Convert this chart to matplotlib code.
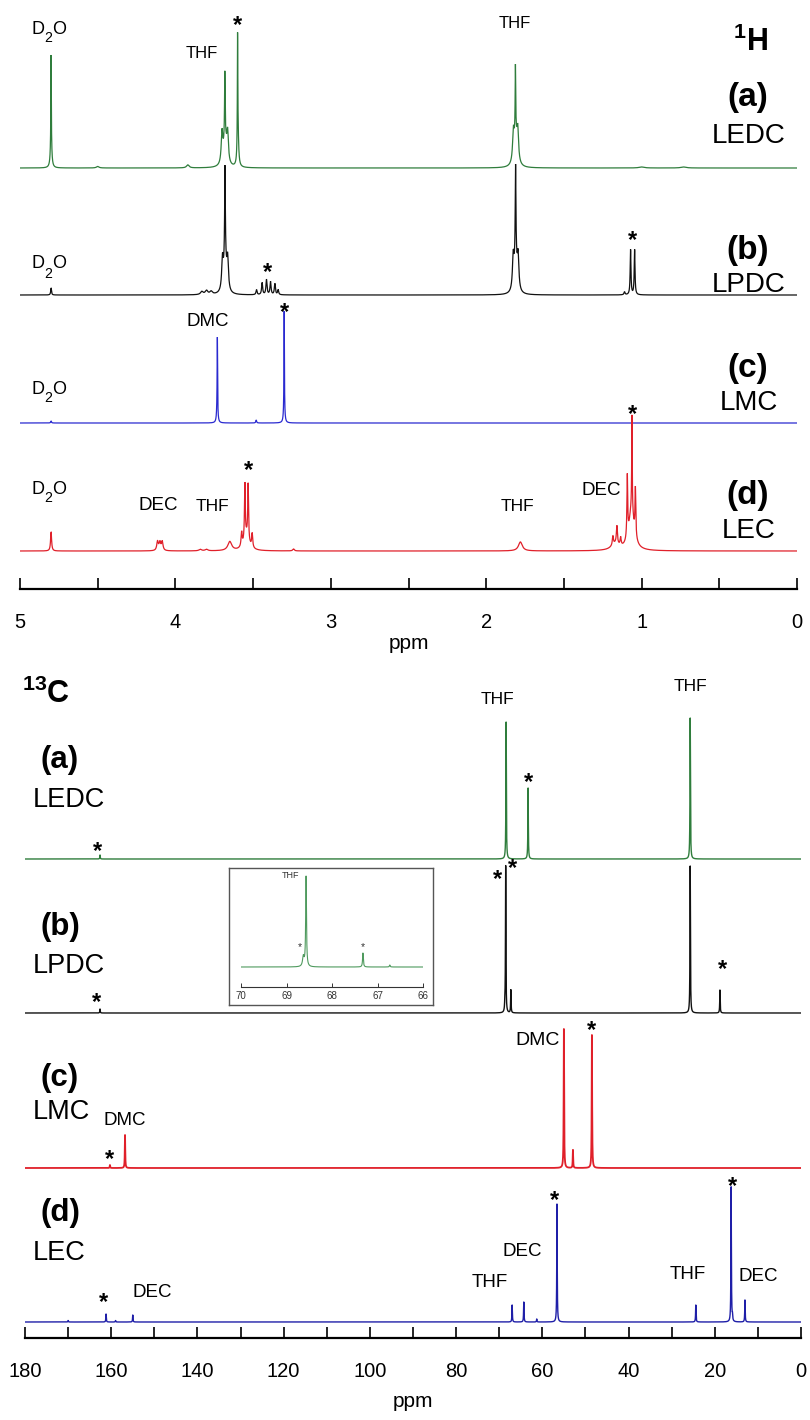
import numpy as np
import matplotlib
matplotlib.use("Agg")
import matplotlib.pyplot as plt
from matplotlib.ticker import MultipleLocator, NullFormatter

plt.rcParams['font.family'] = ['Liberation Sans', 'DejaVu Sans']
plt.rcParams['mathtext.fontset'] = 'custom'
plt.rcParams['mathtext.rm'] = 'Liberation Sans'
plt.rcParams['mathtext.bf'] = 'Liberation Sans:bold'
plt.rcParams['mathtext.it'] = 'Liberation Sans:italic'

# ---------------- 1H spectra: peak lists (ppm, height, half-width) ----------------
H_LEDC_ppm = [4.800, 4.800, 4.50, 3.92, 3.700, 3.680, 3.682, 3.664, 3.600, 3.598,
              1.825, 1.810, 1.812, 1.797, 1.00, 0.73]
H_LEDC_hgt = [85, 28, 1.5, 3, 30, 30, 62, 28, 100, 40,
              28, 30, 66, 28, 1, 1]
H_LEDC_wid = [0.0015, 0.005, 0.01, 0.01, 0.006, 0.012, 0.002, 0.006, 0.0015, 0.005,
              0.006, 0.012, 0.002, 0.006, 0.02, 0.02]

H_LPDC_ppm = [4.800, 3.83, 3.80, 3.77, 3.697, 3.680, 3.681, 3.664,
              3.478, 3.442, 3.414, 3.388, 3.360, 3.339,
              1.826, 1.810, 1.811, 1.795, 1.110, 1.071, 1.045]
H_LPDC_hgt = [7, 3, 4, 3, 30, 35, 88, 30,
              5, 12, 15, 13, 11, 5,
              32, 35, 88, 32, 3, 45, 45]
H_LPDC_wid = [0.003, 0.01, 0.01, 0.01, 0.006, 0.010, 0.0025, 0.006,
              0.004, 0.004, 0.004, 0.004, 0.004, 0.004,
              0.006, 0.010, 0.0025, 0.006, 0.004, 0.003, 0.003]

H_LMC_ppm = [4.80, 3.730, 3.731, 3.48, 3.300, 3.300]
H_LMC_hgt = [2, 70, 17, 3, 95, 17]
H_LMC_wid = [0.003, 0.0015, 0.004, 0.003, 0.0015, 0.004]

H_LEC_ppm = [4.800, 4.115, 4.100, 4.085, 3.84, 3.80, 3.650, 3.574, 3.553, 3.532, 3.506, 3.543,
             3.240, 1.780, 1.185, 1.159, 1.135, 1.170, 1.092, 1.062, 1.040, 1.065]
H_LEC_hgt = [19, 9, 8, 9, 1.5, 1.5, 9, 14, 55, 55, 14, 15,
             2, 9, 9, 18, 8, 6, 62, 95, 48, 40]
H_LEC_wid = [0.004, 0.006, 0.006, 0.006, 0.01, 0.01, 0.015, 0.004, 0.003, 0.003, 0.004, 0.02,
             0.006, 0.015, 0.004, 0.004, 0.004, 0.03, 0.003, 0.002, 0.003, 0.02]

# ---------------- 13C spectra ----------------
C_LEDC_ppm = [162.6, 68.4, 63.3, 25.7]
C_LEDC_hgt = [4, 137, 71, 141]

C_LPDC_ppm = [162.6, 68.7, 68.5, 67.3, 25.7, 18.8]
C_LPDC_hgt = [4, 5, 147, 23, 147, 23]

C_LMC_ppm = [160.3, 156.8, 55.0, 52.9, 48.5]
C_LMC_hgt = [3, 33, 139, 18, 133]

C_LEC_ppm = [170.0, 161.2, 159.0, 155.0, 67.0, 64.3, 61.3, 56.6, 24.4, 16.2, 15.9, 13.0]
C_LEC_hgt = [1.5, 8, 1.5, 7, 17, 20, 3, 118, 17, 135, 5, 22]
C_WIDTH = 0.06

# inset (LPDC, 66-70 ppm)
INS_ppm = [68.57, 68.63, 67.32, 66.73]
INS_hgt = [90, 10, 14, 2]
INS_wid = [0.010, 0.02, 0.010, 0.01]

# ---------------- layout (pixels) ----------------
DPI = 100
W, H = 810, 1420
H_AX = dict(x0=20, x1=797, ybot=589, ytop=0)
C_AX = dict(x0=25, x1=801, ybot=1338, ytop=650)
H_BASE = {'a': 421, 'b': 294, 'c': 166, 'd': 38}
C_BASE = {'a': 479, 'b': 325, 'c': 170, 'd': 16}

GREEN = '#2f7d3c'
BLACK = '#111111'
BLUE = '#2a2ad0'
RED = '#e0202a'
BLUE2 = '#1f1fa8'


def lorentz(x, pos, hgt, wid):
    y = np.zeros_like(x)
    wid = np.broadcast_to(np.asarray(wid, float), (len(pos),))
    for p, h, w in zip(pos, hgt, wid):
        y += h / (1.0 + ((x - p) / w) ** 2)
    return y


def add_axes_px(fig, x0, x1, ytop, ybot):
    return fig.add_axes([x0 / W, 1 - ybot / H, (x1 - x0) / W, (ybot - ytop) / H])


def label(ax, s, x, yc, fs, weight='normal', ha='center', off=0.36, color='black'):
    em = fs * DPI / 72.0
    ax.text(x, yc - off * em, s, fontsize=fs, fontweight=weight, ha=ha,
            va='baseline', color=color)


def star(ax, x, yc, fs=17):
    em = fs * DPI / 72.0
    ax.text(x, yc - 0.58 * em, '*', fontsize=fs, ha='center', va='baseline',
            color='black', fontweight='bold')


def d2o(ax, x, yc, fs=13):
    em = fs * DPI / 72.0
    yb = yc - 0.36 * em
    ax.text(x, yb, 'D', fontsize=fs, ha='left', va='baseline')
    wd = 0.722 * em
    ax.annotate('2', (x, yb), xytext=(wd - 0.5, -9), textcoords='offset pixels',
                fontsize=fs * 0.78, ha='left', va='baseline')
    w2 = 0.556 * em * 0.78
    ax.annotate('O', (x, yb), xytext=(wd + w2 - 0.5, 0), textcoords='offset pixels',
                fontsize=fs, ha='left', va='baseline')


def style_axis(ax):
    for s in ['left', 'right', 'top']:
        ax.spines[s].set_visible(False)
    ax.spines['bottom'].set_linewidth(1.6)
    ax.set_yticks([])
    ax.patch.set_visible(False)
    ax.tick_params(axis='x', which='both', direction='in', length=8, width=1.2,
                   pad=17, labelsize=14.5, colors='black')


fig = plt.figure(figsize=(W / DPI, H / DPI), dpi=DPI)

# ======================= 1H =======================
axH = add_axes_px(fig, H_AX['x0'], H_AX['x1'], H_AX['ytop'], H_AX['ybot'])
style_axis(axH)
axH.set_xlim(5, 0)
axH.set_ylim(0, H_AX['ybot'] - H_AX['ytop'])
axH.xaxis.set_major_locator(MultipleLocator(1))
axH.xaxis.set_minor_locator(MultipleLocator(0.5))
axH.xaxis.set_minor_formatter(NullFormatter())
axH.set_xlabel('ppm', fontsize=15, labelpad=2)

xh = np.linspace(5, 0, 40000)
for key, pos, hgt, wid, col in [('a', H_LEDC_ppm, H_LEDC_hgt, H_LEDC_wid, GREEN),
                                ('b', H_LPDC_ppm, H_LPDC_hgt, H_LPDC_wid, BLACK),
                                ('c', H_LMC_ppm, H_LMC_hgt, H_LMC_wid, BLUE),
                                ('d', H_LEC_ppm, H_LEC_hgt, H_LEC_wid, RED)]:
    axH.plot(xh, H_BASE[key] + lorentz(xh, pos, hgt, wid), color=col, lw=0.9,
             solid_joinstyle='miter')

for yc in [562, 327, 202, 102]:
    d2o(axH, 4.923, yc)
label(axH, 'THF', 3.83, 537, 12)
star(axH, 3.60, 571)
label(axH, 'THF', 1.817, 567, 12)
star(axH, 3.41, 324)
star(axH, 1.06, 356)
label(axH, 'DMC', 3.79, 270, 13.5)
star(axH, 3.30, 284)
label(axH, 'DEC', 4.11, 86, 13.5)
label(axH, 'THF', 3.76, 84, 12.5)
star(axH, 3.53, 126)
label(axH, 'THF', 1.80, 84, 12.5)
label(axH, 'DEC', 1.26, 101, 13.5)
star(axH, 1.06, 182)

label(axH, r'$^{\mathbf{1}}$H', 0.30, 549, 22, weight='bold')
for name, lab, yp, yn in [('(a)', 'LEDC', 492, 456), ('(b)', 'LPDC', 339, 307),
                          ('(c)', 'LMC', 221, 189), ('(d)', 'LEC', 94, 61)]:
    label(axH, name, 0.318, yp, 24, weight='bold', off=0.26)
    label(axH, lab, 0.31, yn, 20)

# ======================= 13C =======================
axC = add_axes_px(fig, C_AX['x0'], C_AX['x1'], C_AX['ytop'], C_AX['ybot'])
style_axis(axC)
axC.set_xlim(180, 0)
axC.set_ylim(0, C_AX['ybot'] - C_AX['ytop'])
axC.xaxis.set_major_locator(MultipleLocator(20))
axC.xaxis.set_minor_locator(MultipleLocator(10))
axC.xaxis.set_minor_formatter(NullFormatter())
axC.set_xlabel('ppm', fontsize=15, labelpad=8)

xc = np.linspace(180, 0, 90000)
for key, pos, hgt, col, lw in [('a', C_LEDC_ppm, C_LEDC_hgt, GREEN, 1.0),
                               ('b', C_LPDC_ppm, C_LPDC_hgt, BLACK, 1.0),
                               ('c', C_LMC_ppm, C_LMC_hgt, RED, 1.3),
                               ('d', C_LEC_ppm, C_LEC_hgt, BLUE2, 1.0)]:
    axC.plot(xc, C_BASE[key] + lorentz(xc, pos, hgt, C_WIDTH), color=col, lw=lw)

label(axC, r'$^{\mathbf{13}}$C', 180.7, 646, 22, weight='bold', ha='left')
for name, lab, yp, yn in [('(a)', 'LEDC', 578, 541), ('(b)', 'LPDC', 411, 375),
                          ('(c)', 'LMC', 260, 229), ('(d)', 'LEC', 125, 88)]:
    label(axC, name, 176.3, yp, 22.5, weight='bold', ha='left', off=0.26)
    label(axC, lab, 178.1, yn, 19.5, ha='left')

label(axC, 'THF', 70.3, 640, 12.5)
star(axC, 63.1, 563)
label(axC, 'THF', 25.7, 653, 12.5)
star(axC, 163.1, 494)
star(axC, 70.3, 466)
star(axC, 67.0, 477)
star(axC, 18.3, 376)
star(axC, 163.3, 343)
label(axC, 'DMC', 156.8, 220, 13.5)
star(axC, 160.3, 186)
label(axC, 'DMC', 61.0, 300, 14)
star(axC, 48.5, 315)
star(axC, 161.7, 43)
label(axC, 'DEC', 155.0, 48, 13.5, ha='left')
label(axC, 'THF', 72.1, 58, 13.5)
label(axC, 'DEC', 64.7, 89, 13.5)
star(axC, 57.1, 145)
label(axC, 'THF', 26.2, 66, 13.5)
star(axC, 16.0, 159)
label(axC, 'DEC', 9.97, 64, 13.5)

# ======================= inset =======================
box = add_axes_px(fig, 229, 433, 868, 1005)
box.set_xticks([])
box.set_yticks([])
for s in box.spines.values():
    s.set_color('#555555')
    s.set_linewidth(1.0)

ins = add_axes_px(fig, 241, 423, 870, 987)
for s in ['left', 'right', 'top']:
    ins.spines[s].set_visible(False)
ins.spines['bottom'].set_linewidth(0.8)
ins.spines['bottom'].set_color('#333333')
ins.patch.set_visible(False)
ins.set_yticks([])
ins.set_xlim(70, 66)
ins.set_ylim(0, 117)
ins.xaxis.set_major_locator(MultipleLocator(1))
ins.tick_params(axis='x', direction='in', length=3, width=0.7, pad=3,
                labelsize=7, colors='#333333')
xi = np.linspace(70, 66, 8000)
ins.plot(xi, 20 + lorentz(xi, INS_ppm, INS_hgt, INS_wid), color='#4f9a5e', lw=0.8)
ins.text(68.92, 112 - 3, 'THF', fontsize=6.5, ha='center', va='baseline', color='#333333')
ins.text(68.70, 41 - 4, '*', fontsize=7.5, ha='center', va='baseline', color='#333333')
ins.text(67.32, 41 - 4, '*', fontsize=7.5, ha='center', va='baseline', color='#333333')

fig.savefig('out.png', dpi=DPI)
